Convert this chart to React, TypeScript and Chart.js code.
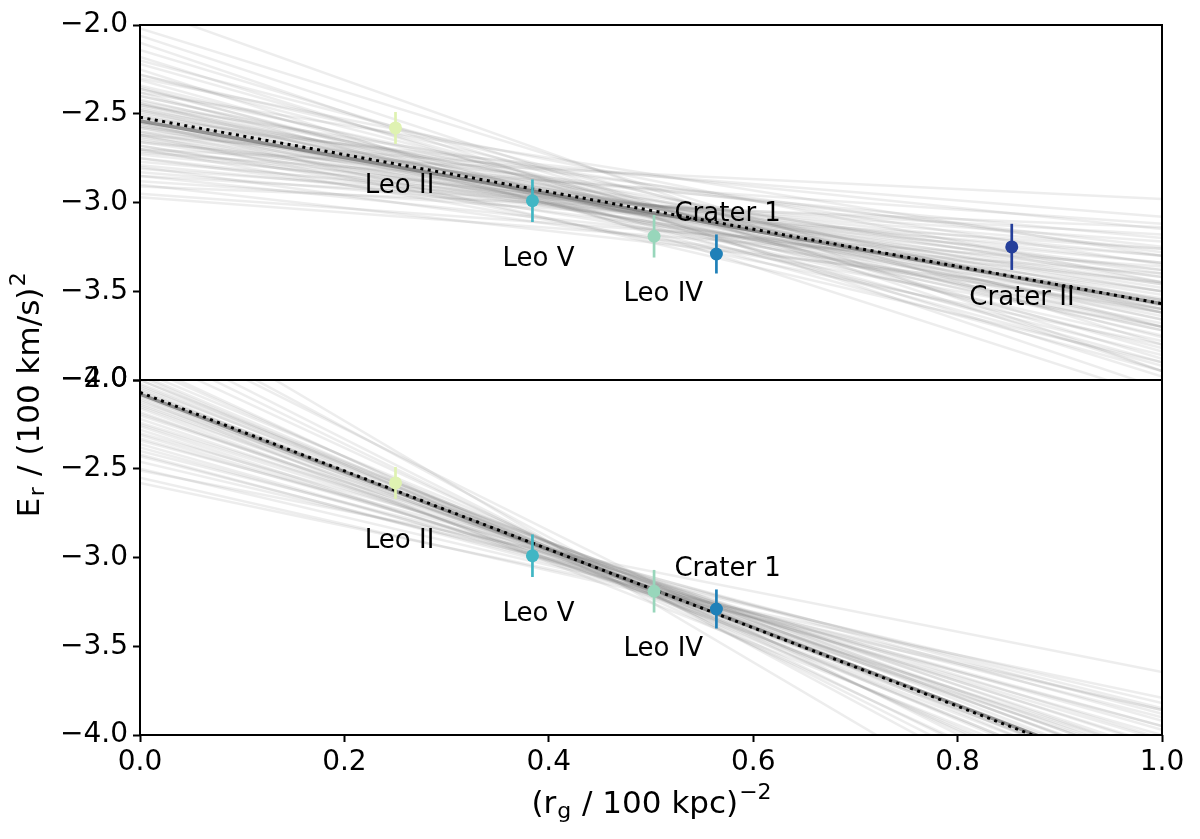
import { useEffect, useRef } from "react";
import { Chart, registerables } from "chart.js";

Chart.register(...registerables);

const FONT = '"DejaVu Sans", "Liberation Sans", sans-serif';

// dwarf galaxies (Crater II only shown in the upper panel)
const names = ["Leo II", "Leo V", "Leo IV", "Crater 1", "Crater II"];
const rgInv = [0.25, 0.384, 0.503, 0.564, 0.853];
const energy = [-2.58, -2.99, -3.19, -3.29, -3.25];
const energyErr = [0.09, 0.12, 0.12, 0.11, 0.13];
const pointColors = ["#dff2b2", "#41b6c4", "#98d6bb", "#1f80b8", "#253f9a"];
const labelX = [0.254, 0.39, 0.512, 0.575, 0.863];
const labelY = [-2.945, -3.355, -3.556, -3.106, -3.575];
const bottomCount = 4;

// x positions where every straight line is evaluated
const lineX = [0, 1];

// best fit (dotted) and median sample (solid) for each panel, values at x=0 and x=1
const topFit = [-2.52, -3.57];
const topMedian = [-2.54, -3.57];
const botFit = [-2.07, -4.28];
const botMedian = [-2.08, -4.27];

// posterior sample lines, upper panel: value at x=0 and x=1
const topSampleStart = [
  -1.9, -2.02, -2.06, -2.1, -2.14, -2.18, -2.22, -2.25, -2.28, -2.31,
  -2.34, -2.36, -2.38, -2.4, -2.42, -2.44, -2.45, -2.47, -2.48, -2.5,
  -2.51, -2.52, -2.53, -2.55, -2.56, -2.57, -2.58, -2.6, -2.61, -2.62,
  -2.64, -2.65, -2.66, -2.68, -2.7, -2.71, -2.73, -2.75, -2.77, -2.79,
  -2.81, -2.83, -2.85, -2.88, -2.91, -2.95, -2.97, -2.7, -2.62, -2.72,
  -2.55, -2.4, -2.46, -2.35, -2.58, -2.49, -2.63, -2.44, -2.3, -2.38,
  -2.45, -2.52, -2.6, -2.66, -2.75, -2.8, -2.7, -2.62, -2.55, -2.85,
  -2.9, -2.48, -2.57, -2.68, -2.43, -2.36, -2.28, -2.2,
];
const topSampleEnd = [
  -3.95, -3.8, -3.95, -4.05, -3.88, -3.98, -3.84, -4.1, -3.76, -3.9,
  -3.7, -3.82, -3.95, -3.66, -3.75, -3.86, -3.6, -3.7, -3.78, -3.56,
  -3.64, -3.72, -3.5, -3.6, -3.68, -3.46, -3.55, -3.62, -3.42, -3.5,
  -3.58, -3.38, -3.46, -3.54, -3.34, -3.42, -3.3, -3.38, -3.26, -3.34,
  -3.22, -3.3, -3.18, -3.26, -3.14, -3.36, -3.4, -2.98, -3.08, -3.12,
  -3.15, -3.62, -3.66, -3.92, -3.48, -3.58, -3.52, -3.72, -3.45, -3.3,
  -3.35, -3.28, -3.25, -3.2, -3.5, -3.6, -3.7, -3.8, -3.9, -3.45,
  -3.55, -3.45, -3.4, -3.62, -3.55, -3.6, -3.62, -3.7,
];

// posterior sample lines, lower panel
const botSampleStart = [
  -1.55, -1.65, -1.7, -1.75, -1.85, -1.9, -1.95, -2.0, -2.03, -2.05,
  -2.08, -2.1, -2.12, -2.15, -2.18, -2.2, -2.22, -2.25, -2.28, -2.3,
  -2.33, -2.36, -2.4, -2.43, -2.46, -2.5, -2.51, -2.55, -2.58, -2.02,
  -2.06, -2.14, -1.98, -2.24, -2.38, -2.0, -2.04, -2.09, -2.13, -2.16,
  -2.19, -1.8, -1.92, -2.26, -2.31, -2.11, -2.07, -2.34, -2.42, -1.97,
];
const botSampleEnd = [
  -4.95, -4.74, -4.57, -4.66, -4.51, -4.56, -4.35, -4.38, -4.31, -4.37,
  -4.21, -4.27, -4.12, -4.17, -4.24, -4.07, -4.13, -4.06, -4.11, -3.92,
  -3.97, -4.0, -3.85, -3.9, -3.82, -3.86, -3.645, -3.86, -3.79, -4.25,
  -4.3, -4.2, -4.45, -4.02, -3.95, -4.3, -4.22, -4.33, -4.15, -4.28,
  -4.1, -4.6, -4.48, -4.15, -4.03, -4.4, -4.18, -3.88, -3.95, -4.4,
];

const yTicks = [-4.0, -3.5, -3.0, -2.5, -2.0];
const xTicks = [0.0, 0.2, 0.4, 0.6, 0.8, 1.0];

const fmt = (v: number) => Number(v).toFixed(1).replace("-", "\u2212");

type Part = { t: string; size: number; dy: number; gap?: number };

// draws text pieces (with sub/superscripts) centred on (0,0)
function drawRich(ctx: CanvasRenderingContext2D, parts: Part[]) {
  let total = 0;
  parts.forEach((p) => {
    ctx.font = `${p.size}px ${FONT}`;
    total += ctx.measureText(p.t).width + (p.gap || 0);
  });
  let x = -total / 2;
  parts.forEach((p) => {
    ctx.font = `${p.size}px ${FONT}`;
    x += (p.gap || 0) / 2;
    ctx.fillText(p.t, x, p.dy);
    x += ctx.measureText(p.t).width + (p.gap || 0) / 2;
  });
}

const overlay = {
  id: "overlay",
  afterDatasetsDraw(chart: any) {
    const { ctx, chartArea, scales } = chart;
    const x = scales.x;
    const panels = [
      { y: scales.yTop, n: names.length },
      { y: scales.yBot, n: bottomCount },
    ];
    ctx.save();
    ctx.fillStyle = "#000";
    ctx.textBaseline = "alphabetic";

    // galaxy names
    ctx.font = `26px ${FONT}`;
    ctx.textAlign = "center";
    panels.forEach(({ y, n }) => {
      for (let i = 0; i < n; i++) {
        ctx.fillText(names[i], x.getPixelForValue(labelX[i]), y.getPixelForValue(labelY[i]));
      }
    });

    // panel frames
    ctx.strokeStyle = "#000";
    ctx.lineWidth = 2;
    panels.forEach(({ y }) => {
      ctx.strokeRect(chartArea.left, y.top, chartArea.right - chartArea.left, y.bottom - y.top);
    });

    // axis titles
    ctx.textAlign = "left";
    ctx.save();
    ctx.translate((chartArea.left + chartArea.right) / 2 + 1, 813);
    drawRich(ctx, [
      { t: "(r", size: 31, dy: 0 },
      { t: "g", size: 22, dy: 5, gap: 2 },
      { t: " / 100 kpc)", size: 31, dy: 0 },
      { t: "\u22122", size: 22, dy: -14, gap: 2 },
    ]);
    ctx.restore();

    ctx.save();
    ctx.translate(39, 394);
    ctx.rotate(-Math.PI / 2);
    drawRich(ctx, [
      { t: "E", size: 31, dy: 0 },
      { t: "r", size: 22, dy: 5, gap: 3 },
      { t: " / (100 km/s)", size: 31, dy: 0 },
      { t: "2", size: 22, dy: -14, gap: 3 },
    ]);
    ctx.restore();

    ctx.restore();
  },
};

const linePts = (vals: number[]) => lineX.map((xv, i) => ({ x: xv, y: vals[i] }));

export default function App() {
  const canvasRef = useRef<HTMLCanvasElement>(null);

  useEffect(() => {
    if (!canvasRef.current) return;

    const datasets: any[] = [];
    const panels = [
      { axis: "yTop", n: names.length, fit: topFit, med: topMedian, s0: topSampleStart, s1: topSampleEnd },
      { axis: "yBot", n: bottomCount, fit: botFit, med: botMedian, s0: botSampleStart, s1: botSampleEnd },
    ];

    // markers first so they are painted on top
    panels.forEach((p) => {
      datasets.push({
        data: rgInv.slice(0, p.n).map((xv, i) => ({ x: xv, y: energy[i] })),
        yAxisID: p.axis,
        pointRadius: 6.5,
        pointBackgroundColor: pointColors.slice(0, p.n),
        pointBorderWidth: 0,
        showLine: false,
      });
    });
    // error bars
    panels.forEach((p) => {
      for (let i = 0; i < p.n; i++) {
        datasets.push({
          data: [
            { x: rgInv[i], y: energy[i] - energyErr[i] },
            { x: rgInv[i], y: energy[i] + energyErr[i] },
          ],
          yAxisID: p.axis,
          showLine: true,
          pointRadius: 0,
          borderColor: pointColors[i],
          borderWidth: 2.7,
        });
      }
    });
    // best fit dotted, median solid
    panels.forEach((p) => {
      datasets.push({
        data: linePts(p.fit),
        yAxisID: p.axis,
        showLine: true,
        pointRadius: 0,
        borderColor: "#000",
        borderWidth: 3,
        borderDash: [3, 4.5],
      });
      datasets.push({
        data: linePts(p.med),
        yAxisID: p.axis,
        showLine: true,
        pointRadius: 0,
        borderColor: "rgba(115,115,115,0.75)",
        borderWidth: 3.5,
      });
    });
    // posterior samples
    panels.forEach((p) => {
      p.s0.forEach((a, i) => {
        datasets.push({
          data: linePts([a, p.s1[i]]),
          yAxisID: p.axis,
          showLine: true,
          pointRadius: 0,
          borderColor: "rgba(128,128,128,0.14)",
          borderWidth: 2.5,
        });
      });
    });

    const yAxis = (min: number, max: number) => ({
      type: "linear",
      position: "left",
      stack: "panels",
      stackWeight: 1,
      min,
      max,
      afterBuildTicks: (s: any) => {
        s.ticks = yTicks.map((v) => ({ value: v }));
      },
      afterFit: (s: any) => {
        s.width = 140;
      },
      ticks: {
        color: "#000",
        font: { family: FONT, size: 28 },
        padding: 5,
        callback: (v: any) => fmt(v),
      },
      grid: {
        display: true,
        drawOnChartArea: false,
        drawTicks: true,
        tickLength: 7,
        tickWidth: 2,
        tickColor: "#000",
      },
      border: { display: false },
    });

    const chart = new Chart(canvasRef.current, {
      type: "scatter",
      data: { datasets },
      plugins: [overlay],
      options: {
        animation: false,
        responsive: false,
        devicePixelRatio: 1,
        events: [],
        layout: { padding: { left: 0, right: 38, top: 25, bottom: 0 } },
        plugins: { legend: { display: false }, tooltip: { enabled: false } },
        scales: {
          x: {
            type: "linear",
            min: 0,
            max: 1,
            afterBuildTicks: (s: any) => {
              s.ticks = xTicks.map((v) => ({ value: v }));
            },
            afterFit: (s: any) => {
              s.height = 104;
            },
            ticks: {
              color: "#000",
              font: { family: FONT, size: 28 },
              padding: 4,
              maxRotation: 0,
              callback: (v: any) => fmt(v),
            },
            grid: {
              display: true,
              drawOnChartArea: false,
              drawTicks: true,
              tickLength: 7,
              tickWidth: 2,
              tickColor: "#000",
            },
            border: { display: false },
          },
          // stacked axes are laid out in reverse definition order: lower panel first
          yBot: yAxis(-4, -2),
          yTop: yAxis(-4, -2),
        } as any,
      },
    });

    return () => {
      chart.destroy();
    };
  }, []);

  return (
    <div style={{ position: "fixed", left: 0, top: 0, width: 1200, height: 839, background: "#fff" }}>
      <canvas ref={canvasRef} width={1200} height={839} style={{ width: 1200, height: 839 }} />
    </div>
  );
}
